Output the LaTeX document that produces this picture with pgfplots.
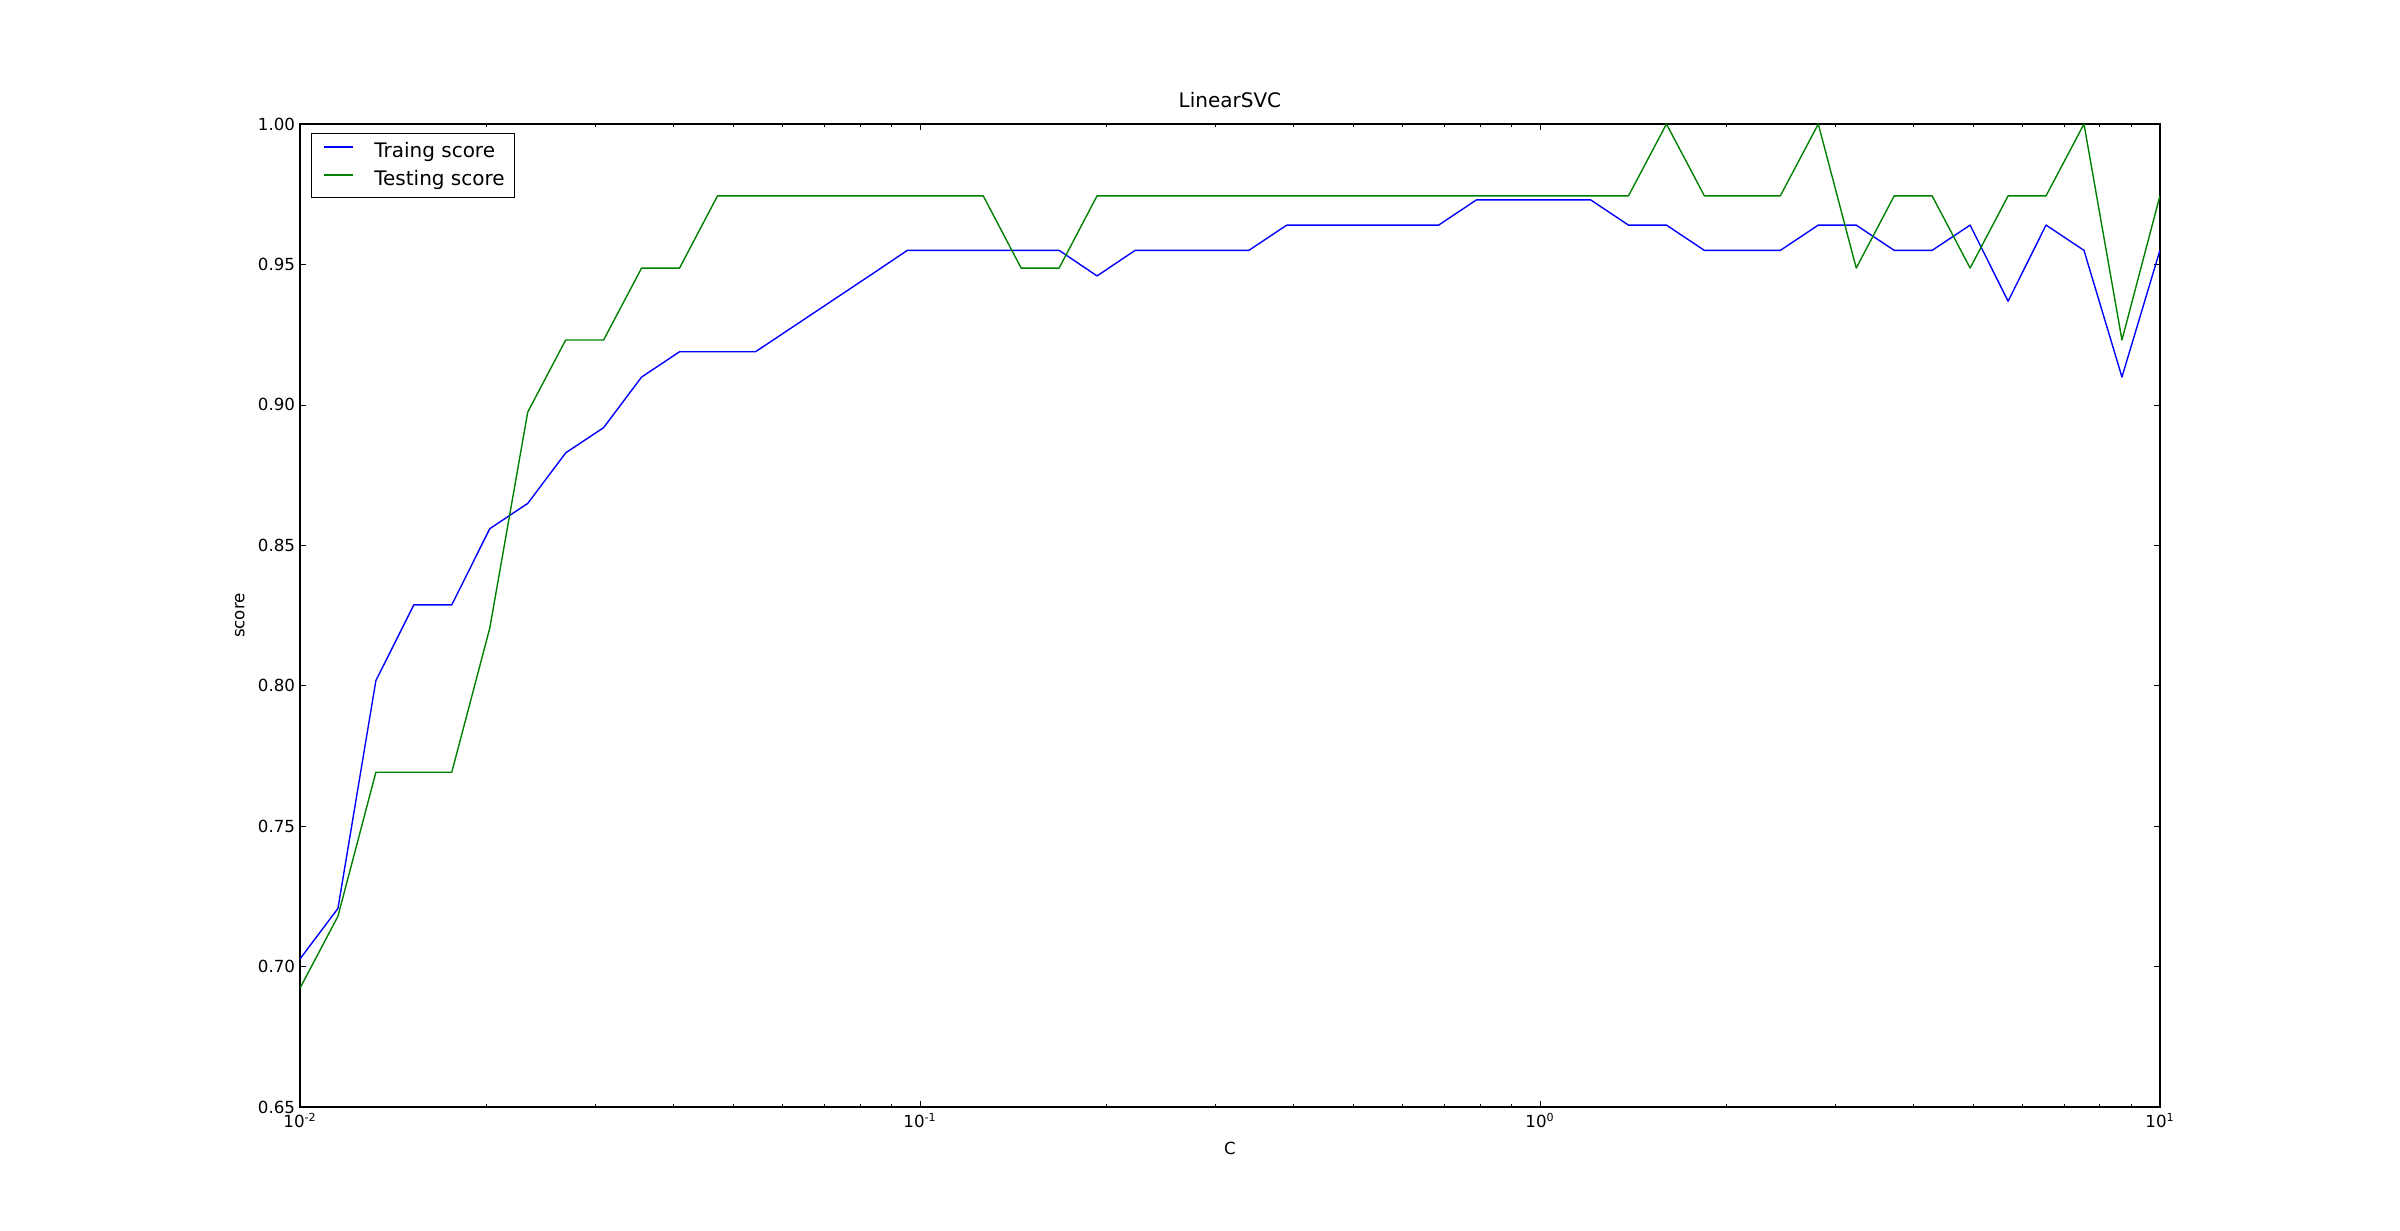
\documentclass[border=0pt]{standalone}
\usepackage{pgfplots}
\pgfplotsset{compat=1.18}
\usepackage{fontspec}
\setmainfont{DejaVu Sans}
\definecolor{mplblue}{rgb}{0,0,1}
\definecolor{mplgreen}{rgb}{0,0.5,0}
\begin{document}
\begin{tikzpicture}
\useasboundingbox (-216pt,-88.56pt) rectangle (1512pt,797.04pt);
\begin{axis}[
  at={(0pt,0pt)}, anchor=south west, scale only axis,
  width=1339.2pt, height=707.76pt,
  xmode=log, xmin=0.01, xmax=10, ymin=0.65, ymax=1.0,
  xtick={0.01,0.1,1,10},
  xticklabels={10\textsuperscript{-2},10\textsuperscript{-1},10\textsuperscript{0},10\textsuperscript{1}},
  minor xtick={0.02,0.03,0.04,0.05,0.06,0.07,0.08,0.09,0.2,0.3,0.4,0.5,0.6,0.7,0.8,0.9,2,3,4,5,6,7,8,9},
  ytick={0.65,0.7,0.75,0.8,0.85,0.9,0.95,1.0},
  yticklabel style={/pgf/number format/.cd, fixed, fixed zerofill, precision=2, assume math mode=true},
  tick align=inside,
  major tick length=4pt, minor tick length=2pt,
  every tick/.style={black, line width=0.5pt},
  axis line style={line width=1pt},
  tick label style={font=\fontsize{12}{14.4}\selectfont},
  xticklabel style={yshift=-1pt},
  title={\fontsize{14.4}{17}\selectfont LinearSVC},
  title style={at={(axis description cs:0.5,1)}, anchor=base, yshift=5.8pt},
  xlabel={C}, ylabel={score},
  label style={font=\fontsize{12}{14.4}\selectfont},
  xlabel style={at={(axis description cs:0.5,-0.0417)}, anchor=center},
  ylabel style={at={(axis description cs:-0.0323,0.5)}, anchor=center},
  legend style={at={(axis description cs:0,1)}, anchor=north west, xshift=7.7pt, yshift=-6.7pt,
    draw=black, line width=0.8pt, font=\fontsize{14.4}{17}\selectfont,
    inner xsep=7pt, inner ysep=5.5pt, row sep=5.4pt, column sep=0pt,
    nodes={inner sep=0pt, text height=10.5pt, text depth=3pt}},
  legend cell align=left,
  legend image code/.code={\path[draw=none,fill=none] (0pt,-3pt) rectangle (38.4pt,8pt); \draw[#1, line width=1pt] (2.4pt,4pt) -- (23.4pt,4pt);},
]
\addplot[mplblue, line width=1pt, line join=round] coordinates {
(0.010000,0.7027) (0.011514,0.7207) (0.013257,0.8018) (0.015264,0.8288) (0.017575,0.8288)
(0.020236,0.8559) (0.023300,0.8649) (0.026827,0.8829) (0.030888,0.8919) (0.035565,0.9099)
(0.040949,0.9189) (0.047149,0.9189) (0.054287,0.9189) (0.062506,0.9279) (0.071969,0.9369)
(0.082864,0.9459) (0.095410,0.9550) (0.10985,0.9550) (0.12649,0.9550) (0.14563,0.9550)
(0.16768,0.9550) (0.19307,0.9459) (0.22230,0.9550) (0.25595,0.9550) (0.29471,0.9550)
(0.33932,0.9550) (0.39069,0.9640) (0.44984,0.9640) (0.51795,0.9640) (0.59636,0.9640)
(0.68665,0.9640) (0.79060,0.9730) (0.91030,0.9730) (1.0481,0.9730) (1.2068,0.9730)
(1.3895,0.9640) (1.5999,0.9640) (1.8421,0.9550) (2.1210,0.9550) (2.4421,0.9550)
(2.8118,0.9640) (3.2375,0.9640) (3.7276,0.9550) (4.2919,0.9550) (4.9417,0.9640)
(5.6899,0.9369) (6.5513,0.9640) (7.5431,0.9550) (8.6851,0.9099) (10.000,0.9550)
};
\addlegendentry{Traing score}
\addplot[mplgreen, line width=1pt, line join=round] coordinates {
(0.010000,0.6923) (0.011514,0.7179) (0.013257,0.7692) (0.015264,0.7692) (0.017575,0.7692)
(0.020236,0.8205) (0.023300,0.8974) (0.026827,0.9231) (0.030888,0.9231) (0.035565,0.9487)
(0.040949,0.9487) (0.047149,0.9744) (0.054287,0.9744) (0.062506,0.9744) (0.071969,0.9744)
(0.082864,0.9744) (0.095410,0.9744) (0.10985,0.9744) (0.12649,0.9744) (0.14563,0.9487)
(0.16768,0.9487) (0.19307,0.9744) (0.22230,0.9744) (0.25595,0.9744) (0.29471,0.9744)
(0.33932,0.9744) (0.39069,0.9744) (0.44984,0.9744) (0.51795,0.9744) (0.59636,0.9744)
(0.68665,0.9744) (0.79060,0.9744) (0.91030,0.9744) (1.0481,0.9744) (1.2068,0.9744)
(1.3895,0.9744) (1.5999,1.0000) (1.8421,0.9744) (2.1210,0.9744) (2.4421,0.9744)
(2.8118,1.0000) (3.2375,0.9487) (3.7276,0.9744) (4.2919,0.9744) (4.9417,0.9487)
(5.6899,0.9744) (6.5513,0.9744) (7.5431,1.0000) (8.6851,0.9231) (10.000,0.9744)
};
\addlegendentry{Testing score}
\end{axis}
\end{tikzpicture}
\end{document}
